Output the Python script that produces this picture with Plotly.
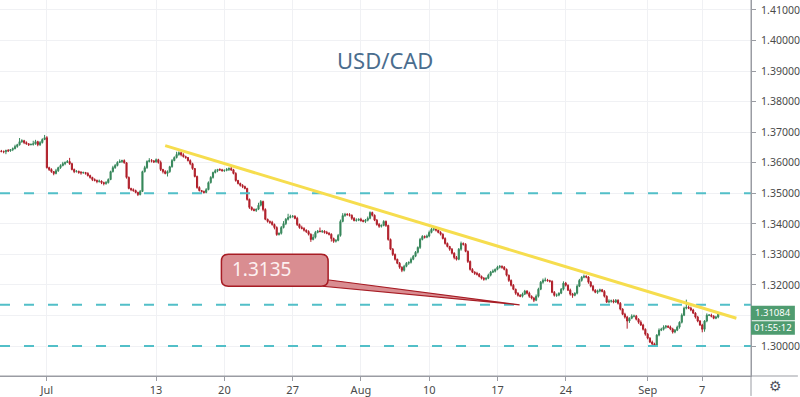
import pandas as pd
import plotly.graph_objects as go

# ---------------- data ----------------
PAIR = "USD/CAD"
FIRST_OPEN = 1.3638
# 4H closes, one row per trading day (first row = last two bars of Jun 25, last row = first bars of Sep 8)
CLOSES_BY_DAY = [
    [1.3637, 1.3636],
    [1.3640, 1.3639, 1.3643, 1.3646, 1.3653, 1.3659],
    [1.3669, 1.3672, 1.3666, 1.3662, 1.3659, 1.3660],
    [1.3662, 1.3669, 1.3659, 1.3666, 1.3676, 1.3682],
    [1.3584, 1.3578, 1.3571, 1.3565, 1.3574, 1.3584],
    [1.3591, 1.3597, 1.3601, 1.3604, 1.3597, 1.3578],
    [1.3571, 1.3572, 1.3568, 1.3567, 1.3568, 1.3565],
    [1.3558, 1.3552, 1.3545, 1.3542, 1.3539, 1.3540],
    [1.3535, 1.3532, 1.3535, 1.3545, 1.3571, 1.3584],
    [1.3591, 1.3601, 1.3604, 1.3607, 1.3600, 1.3552],
    [1.3516, 1.3512, 1.3509, 1.3503, 1.3496, 1.3506],
    [1.3571, 1.3584, 1.3604, 1.3607, 1.3606, 1.3603],
    [1.3610, 1.3601, 1.3578, 1.3571, 1.3565, 1.3571],
    [1.3587, 1.3607, 1.3617, 1.3627, 1.3633, 1.3626],
    [1.3620, 1.3617, 1.3607, 1.3597, 1.3581, 1.3555],
    [1.3519, 1.3509, 1.3506, 1.3503, 1.3512, 1.3535],
    [1.3552, 1.3568, 1.3574, 1.3578, 1.3577, 1.3574],
    [1.3575, 1.3578, 1.3581, 1.3577, 1.3565, 1.3542],
    [1.3532, 1.3526, 1.3522, 1.3516, 1.3480, 1.3454],
    [1.3447, 1.3444, 1.3448, 1.3461, 1.3473, 1.3447],
    [1.3415, 1.3408, 1.3405, 1.3398, 1.3388, 1.3365],
    [1.3369, 1.3388, 1.3401, 1.3415, 1.3421, 1.3424],
    [1.3425, 1.3418, 1.3398, 1.3388, 1.3385, 1.3379],
    [1.3375, 1.3366, 1.3349, 1.3356, 1.3372, 1.3376],
    [1.3375, 1.3376, 1.3372, 1.3369, 1.3366, 1.3352],
    [1.3343, 1.3346, 1.3362, 1.3408, 1.3427, 1.3431],
    [1.3430, 1.3428, 1.3418, 1.3411, 1.3412, 1.3415],
    [1.3411, 1.3408, 1.3412, 1.3418, 1.3437, 1.3428],
    [1.3412, 1.3398, 1.3392, 1.3395, 1.3408, 1.3395],
    [1.3349, 1.3317, 1.3300, 1.3284, 1.3271, 1.3258],
    [1.3248, 1.3261, 1.3271, 1.3274, 1.3284, 1.3294],
    [1.3307, 1.3323, 1.3349, 1.3359, 1.3356, 1.3360],
    [1.3372, 1.3382, 1.3385, 1.3379, 1.3372, 1.3366],
    [1.3352, 1.3336, 1.3326, 1.3317, 1.3304, 1.3290],
    [1.3284, 1.3317, 1.3336, 1.3333, 1.3310, 1.3277],
    [1.3251, 1.3242, 1.3238, 1.3235, 1.3228, 1.3222],
    [1.3219, 1.3222, 1.3232, 1.3242, 1.3245, 1.3251],
    [1.3258, 1.3261, 1.3258, 1.3251, 1.3232, 1.3215],
    [1.3199, 1.3186, 1.3173, 1.3166, 1.3163, 1.3170],
    [1.3180, 1.3173, 1.3163, 1.3157, 1.3150, 1.3163],
    [1.3186, 1.3209, 1.3215, 1.3216, 1.3214, 1.3212],
    [1.3176, 1.3166, 1.3167, 1.3173, 1.3186, 1.3206],
    [1.3199, 1.3183, 1.3170, 1.3166, 1.3173, 1.3196],
    [1.3215, 1.3225, 1.3228, 1.3226, 1.3209, 1.3196],
    [1.3183, 1.3176, 1.3180, 1.3184, 1.3179, 1.3163],
    [1.3144, 1.3147, 1.3148, 1.3144, 1.3150, 1.3140],
    [1.3121, 1.3104, 1.3095, 1.3082, 1.3091, 1.3098],
    [1.3098, 1.3088, 1.3078, 1.3069, 1.3055, 1.3039],
    [1.3026, 1.3013, 1.3007, 1.3003, 1.3036, 1.3052],
    [1.3055, 1.3062, 1.3065, 1.3062, 1.3056, 1.3046],
    [1.3052, 1.3062, 1.3078, 1.3101, 1.3124, 1.3127],
    [1.3124, 1.3118, 1.3108, 1.3095, 1.3082, 1.3069],
    [1.3055, 1.3082, 1.3101, 1.3101, 1.3098, 1.3091],
    [1.3095, 1.31084],
]
# upper / lower wick lengths in pips
WICK_HI_BY_DAY = [
    [4, 3], [3, 5, 2, 4, 6, 3], [12, 5, 3, 4, 2, 3], [10, 6, 3, 5, 4, 9], [5, 3, 4, 2, 6, 3],
    [4, 6, 3, 5, 12, 3], [3, 4, 2, 5, 3, 2], [4, 3, 2, 4, 3, 5], [2, 3, 5, 4, 3, 6], [5, 4, 7, 3, 4, 2],
    [3, 2, 4, 3, 2, 5], [3, 6, 4, 8, 5, 3], [4, 3, 6, 2, 5, 4], [3, 5, 4, 9, 4, 3], [5, 3, 2, 4, 3, 2],
    [3, 4, 2, 3, 5, 4], [4, 3, 5, 2, 4, 3], [3, 5, 4, 8, 3, 4], [2, 3, 4, 3, 2, 3], [3, 4, 2, 8, 5, 3],
    [4, 2, 3, 5, 3, 4], [3, 5, 8, 4, 12, 6], [4, 3, 5, 3, 6, 4], [3, 4, 3, 10, 5, 4], [12, 4, 3, 5, 4, 3],
    [3, 4, 5, 6, 8, 5], [4, 5, 3, 4, 6, 3], [5, 3, 4, 6, 4, 3], [3, 4, 5, 3, 4, 3], [2, 3, 4, 3, 2, 4],
    [3, 5, 4, 3, 6, 4], [4, 3, 5, 4, 3, 5], [6, 5, 4, 3, 5, 4], [3, 4, 3, 2, 4, 3], [5, 4, 6, 3, 4, 3],
    [3, 4, 3, 5, 4, 3], [4, 3, 5, 4, 6, 3], [5, 4, 3, 4, 3, 2], [3, 4, 2, 3, 4, 5], [4, 3, 5, 3, 4, 6],
    [5, 4, 6, 8, 4, 3], [3, 4, 5, 3, 4, 6], [4, 3, 5, 4, 3, 6], [5, 4, 6, 4, 3, 4], [4, 3, 5, 4, 3, 4],
    [3, 6, 4, 5, 4, 3], [4, 3, 5, 4, 3, 6], [5, 4, 3, 6, 4, 3], [4, 3, 5, 4, 3, 6], [5, 6, 4, 3, 5, 4],
    [4, 5, 3, 6, 5, 25], [6, 5, 4, 3, 4, 3], [4, 3, 6, 4, 5, 3], [4, 3],
]
WICK_LO_BY_DAY = [
    [3, 5], [8, 4, 3, 5, 2, 4], [3, 4, 5, 3, 4, 2], [4, 3, 5, 4, 3, 2], [3, 5, 4, 6, 3, 4],
    [4, 3, 5, 2, 4, 3], [5, 3, 4, 6, 3, 4], [3, 4, 5, 3, 6, 4], [5, 6, 4, 3, 2, 3], [4, 3, 2, 5, 3, 4],
    [3, 5, 4, 3, 5, 3], [2, 3, 4, 3, 5, 4], [3, 4, 5, 6, 3, 10], [4, 3, 2, 3, 4, 5], [3, 4, 3, 5, 4, 3],
    [4, 3, 5, 4, 3, 2], [3, 4, 3, 5, 4, 3], [4, 3, 5, 4, 3, 4], [3, 4, 5, 3, 4, 5], [4, 3, 5, 3, 4, 6],
    [3, 4, 5, 4, 6, 4], [3, 4, 3, 5, 4, 3], [4, 3, 5, 4, 3, 4], [5, 4, 8, 3, 4, 3], [3, 5, 4, 3, 4, 10],
    [5, 4, 3, 4, 3, 4], [3, 4, 5, 3, 4, 3], [4, 3, 5, 4, 3, 4], [3, 4, 5, 4, 3, 5], [4, 3, 5, 4, 3, 5],
    [6, 4, 3, 5, 4, 3], [3, 4, 5, 3, 4, 3], [4, 3, 5, 4, 3, 4], [3, 4, 3, 5, 4, 6], [4, 3, 5, 4, 3, 5],
    [4, 3, 5, 4, 3, 4], [5, 4, 3, 4, 3, 4], [3, 4, 5, 3, 4, 5], [4, 3, 5, 4, 3, 4], [3, 4, 5, 4, 6, 3],
    [4, 3, 5, 4, 3, 4], [3, 4, 5, 4, 3, 4], [4, 3, 5, 8, 3, 4], [3, 4, 3, 4, 5, 4], [4, 3, 5, 4, 3, 4],
    [3, 4, 5, 4, 3, 4], [4, 3, 5, 25, 6, 3], [4, 4, 5, 3, 4, 5], [4, 3, 5, 4, 3, 4], [3, 4, 5, 3, 4, 5],
    [4, 3, 5, 4, 3, 4], [3, 4, 3, 5, 4, 3], [10, 8, 4, 3, 4, 3], [3, 4],
]
FIRST_BAR = "2020-06-25 16:00"
LEVELS = [1.3500, 1.3135, 1.3000]
CALLOUT_LEVEL = 1.3135
TREND_DATES = ["2020-07-13 16:00", "2020-09-09 12:00"]
TREND_PRICES = [1.3656, 1.3091]
TICK_DATES = ["2020-07-01", "2020-07-13", "2020-07-20", "2020-07-27", "2020-08-03",
              "2020-08-10", "2020-08-17", "2020-08-24", "2020-09-01", "2020-09-07"]
TICK_TEXT = ["Jul", "13", "20", "27", "Aug", "10", "17", "24", "Sep", "7"]
Y_TICKS = [1.30, 1.31, 1.32, 1.33, 1.34, 1.35, 1.36, 1.37, 1.38, 1.39, 1.40, 1.41]
LAST_PRICE = 1.31084
COUNTDOWN = "01:55:12"
X_RANGE = ["2020-06-25 13:36", "2020-09-10 13:40"]
Y_RANGE = [1.290208, 1.413264]

# ---------------- build OHLC ----------------
closes = [v for row in CLOSES_BY_DAY for v in row]
whi = [v for row in WICK_HI_BY_DAY for v in row]
wlo = [v for row in WICK_LO_BY_DAY for v in row]
n = len(closes)
opens = [FIRST_OPEN] + closes[:-1]
highs = [max(o, c) + w * 1e-4 for o, c, w in zip(opens, closes, whi)]
lows = [min(o, c) - w * 1e-4 for o, c, w in zip(opens, closes, wlo)]

days = pd.bdate_range("2020-06-25", "2020-09-10")
stamps = [d + pd.Timedelta(hours=h) for d in days for h in range(0, 24, 4)]
stamps = [t for t in stamps if t >= pd.Timestamp(FIRST_BAR)][:n]

UP = "#37875b"
DOWN = "#b01e29"
AXIS = "#9a9ca3"
GRID = "#f0f1f4"
TXT = "#4a4a4a"
FONT = "Noto Sans"

fig = go.Figure(go.Candlestick(
    x=stamps, open=opens, high=highs, low=lows, close=closes,
    increasing=dict(line=dict(color=UP, width=1), fillcolor=UP),
    decreasing=dict(line=dict(color=DOWN, width=1), fillcolor=DOWN),
    whiskerwidth=0, hoverinfo="skip",
))

W, H = 800, 397
ML, MR, MT, MB = 0, 47, 0, 20
PW, PH = W - ML - MR, H - MT - MB


def px(x, y):
    return (x - ML) / PW, 1 - (y - MT) / PH


def ypaper(price):
    return (price - Y_RANGE[0]) / (Y_RANGE[1] - Y_RANGE[0])


shapes = []
for lv in LEVELS:
    shapes.append(dict(type="line", xref="paper", yref="y", x0=0, x1=1, y0=lv, y1=lv,
                       line=dict(color="#52bfc8", width=2, dash="10px,14px"), layer="above"))
# trend line
shapes.append(dict(type="line", xref="x", yref="y", x0=TREND_DATES[0], x1=TREND_DATES[1],
                   y0=TREND_PRICES[0], y1=TREND_PRICES[1],
                   line=dict(color="#f6dd4e", width=3), layer="above"))

# callout (tail + rounded box)
FILL = "#d98d91"
EDGE = "#a71d25"
t1 = px(328, 280.5)
tip = (px(521, 0)[0], ypaper(CALLOUT_LEVEL))
t2 = px(324, 287)
shapes.append(dict(type="path", xref="paper", yref="paper",
                   path=f"M {t1[0]} {t1[1]} L {tip[0]} {tip[1]} L {t2[0]} {t2[1]} Z",
                   fillcolor=FILL, line=dict(color=EDGE, width=1.2), layer="above"))
bx0, bx1, by0, by1, r = 222, 329, 255, 287, 7
rx, ry = r / PW, r / PH
X0, Ytop = px(bx0, by0)
X1, Ybot = px(bx1, by1)
box_path = (f"M {X0+rx} {Ytop} L {X1-rx} {Ytop} Q {X1} {Ytop} {X1} {Ytop-ry} "
            f"L {X1} {Ybot+ry} Q {X1} {Ybot} {X1-rx} {Ybot} L {X0+rx} {Ybot} "
            f"Q {X0} {Ybot} {X0} {Ybot+ry} L {X0} {Ytop-ry} Q {X0} {Ytop} {X0+rx} {Ytop} Z")
shapes.append(dict(type="path", xref="paper", yref="paper", path=box_path,
                   fillcolor=FILL, line=dict(color=EDGE, width=1.5), layer="above"))

# axis lines extended like the reference
shapes.append(dict(type="line", xref="paper", yref="paper", x0=0, x1=W / PW, y0=0, y1=0,
                   line=dict(color=AXIS, width=1)))
shapes.append(dict(type="line", xref="paper", yref="paper", x0=1, x1=1, y0=-MB / PH, y1=1,
                   line=dict(color=AXIS, width=1)))

# last price / countdown labels
LBL = "#4f9c70"
lp_y = ypaper(LAST_PRICE)
h1 = 14.5 / PH
h2 = 13.5 / PH
gap = 1.0 / PH
shapes.append(dict(type="rect", xref="paper", yref="paper", x0=1, x1=797 / PW,
                   y0=lp_y - h1 / 2, y1=lp_y + h1 / 2, fillcolor=LBL, line=dict(width=0)))
cd_top = lp_y - h1 / 2 - gap
shapes.append(dict(type="rect", xref="paper", yref="paper", x0=1, x1=797 / PW,
                   y0=cd_top - h2, y1=cd_top, fillcolor=LBL, line=dict(width=0)))

annotations = [
    dict(text=PAIR, xref="paper", yref="paper", x=px(386, 0)[0], y=px(0, 60)[1],
         showarrow=False, font=dict(family=FONT, size=22, color="#4a6d8e"),
         xanchor="center", yanchor="middle"),
    dict(text=f"{CALLOUT_LEVEL:.4f}", xref="paper", yref="paper", x=px(231, 0)[0], y=px(0, 270)[1],
         showarrow=False, font=dict(family=FONT, size=19, color="#fdf0f0"),
         xanchor="left", yanchor="middle"),
    dict(text=f"{LAST_PRICE:.5f}", xref="paper", yref="paper", x=(775.5 - ML) / PW, y=lp_y,
         showarrow=False, font=dict(family=FONT, size=9.5, color="white"),
         xanchor="center", yanchor="middle", borderpad=0),
    dict(text=COUNTDOWN, xref="paper", yref="paper", x=(775.5 - ML) / PW, y=cd_top - h2 / 2,
         showarrow=False, font=dict(family=FONT, size=9.5, color="white"),
         xanchor="center", yanchor="middle", borderpad=0),
    dict(text="⚙", xref="paper", yref="paper", x=(778 - ML) / PW, y=px(0, 387)[1],
         showarrow=False, font=dict(family="DejaVu Sans", size=14, color="#50535e"),
         xanchor="center", yanchor="middle"),
]

# the tick label hidden behind the last-price badge is left blank
y_text = ["" if abs(v - LAST_PRICE) < 0.004 else f"{v:.5f}" for v in Y_TICKS]

fig.update_layout(
    width=W, height=H, margin=dict(l=ML, r=MR, t=MT, b=MB),
    paper_bgcolor="white", plot_bgcolor="white", showlegend=False,
    shapes=shapes, annotations=annotations, hovermode=False,
    xaxis_rangeslider_visible=False,
)
fig.update_xaxes(
    type="date", range=X_RANGE, rangebreaks=[dict(bounds=["sat", "mon"])],
    tickmode="array", tickvals=TICK_DATES, ticktext=TICK_TEXT,
    showgrid=True, gridcolor=GRID, gridwidth=1, zeroline=False,
    ticks="outside", ticklen=4, tickcolor=AXIS, showline=True, linecolor=AXIS,
    tickfont=dict(family=FONT, size=11, color=TXT),
)
fig.update_yaxes(
    side="right", range=Y_RANGE, tickmode="array", tickvals=Y_TICKS, ticktext=y_text,
    showgrid=True, gridcolor=GRID, gridwidth=1, zeroline=False,
    ticks="outside", ticklen=4, tickcolor=AXIS, showline=True, linecolor=AXIS,
    tickfont=dict(family=FONT, size=10.5, color=TXT), ticklabelstandoff=3,
)

fig.write_html("out.html", config=dict(displayModeBar=False, staticPlot=True),
               post_script="document.body.style.margin='0';document.body.style.overflow='hidden';")
